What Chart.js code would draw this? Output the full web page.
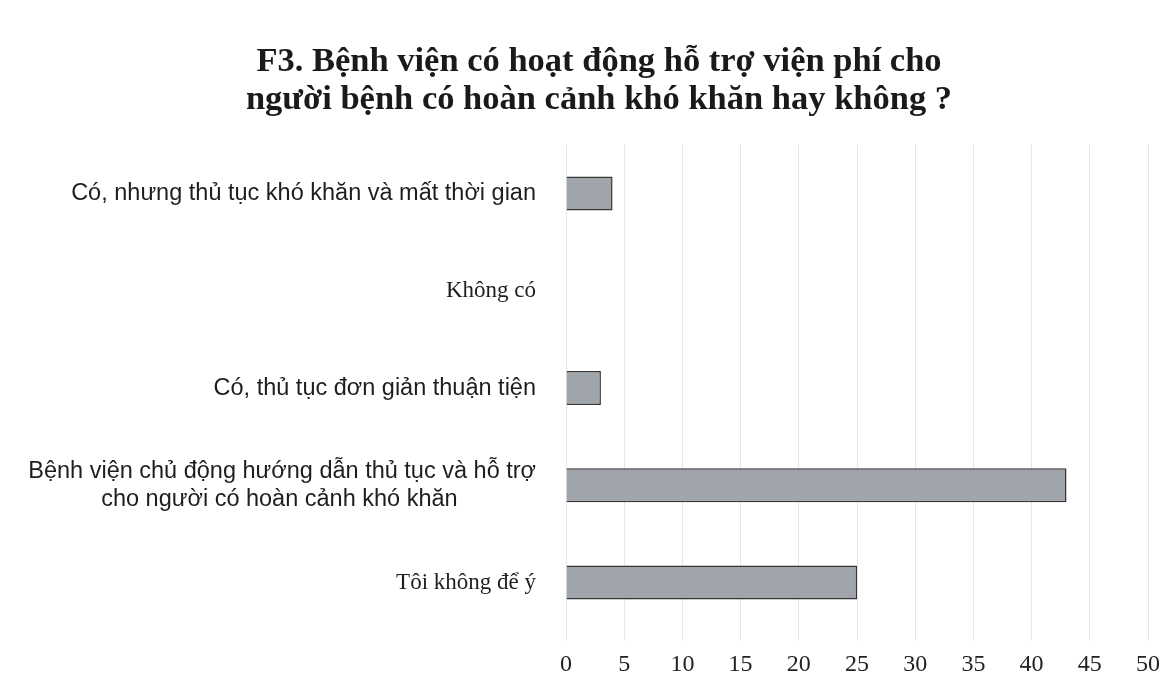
<!DOCTYPE html>
<html>
<head>
<meta charset="utf-8">
<script src="https://cdn.jsdelivr.net/npm/chart.js@4.4.1/dist/chart.umd.min.js"></script>
<style>
  html, body { margin: 0; padding: 0; background: #fff; }
  #wrap { width: 1176px; height: 689px; position: relative; }
</style>
</head>
<body>
<div id="wrap"><canvas id="chart" width="1176" height="689"></canvas></div>
<script>
// ---------------- Data ----------------
const TITLE_LINES = [
  "F3. Bệnh viện có hoạt động hỗ trợ viện phí cho",
  "người bệnh có hoàn cảnh khó khăn hay không ?"
];
const CATEGORIES = [
  "Có, nhưng thủ tục khó khăn và mất thời gian",
  "Không có",
  "Có, thủ tục đơn giản thuận tiện",
  ["Bệnh viện chủ động hướng dẫn thủ tục và hỗ trợ", "cho người có hoàn cảnh khó khăn"],
  "Tôi không để ý"
];
const VALUES = [4, 0, 3, 43, 25];
const X_TICKS = [0, 5, 10, 15, 20, 25, 30, 35, 40, 45, 50];

// labels 1 and 4 are set in a serif face in the original
const SERIF_LABELS = [1, 4];

const SANS = "'Liberation Sans', Arial, sans-serif";
const SERIF = "'Liberation Serif', 'Times New Roman', serif";
const LABEL_SIZE = 23.5;

// pad shorter lines of a multi-line label so they sit centred under the longest
const measureCtx = document.createElement("canvas").getContext("2d");
function centerLines(lines, font) {
  measureCtx.font = font;
  const widths = lines.map(l => measureCtx.measureText(l).width);
  const maxW = Math.max(...widths);
  const sp = measureCtx.measureText(" ").width;
  return lines.map((l, i) => l + " ".repeat(Math.round((maxW - widths[i]) / 2 / sp)));
}

// left padding is only there to push the title centre right;
// let the y-axis labels use that strip so the long one isn't clipped
const widenYAxis = {
  id: "widenYAxis",
  afterLayout(chart) { chart.scales.y.left = 0; }
};

new Chart(document.getElementById("chart").getContext("2d"), {
  type: "bar",
  plugins: [widenYAxis],
  data: {
    labels: CATEGORIES,
    datasets: [{
      data: VALUES,
      backgroundColor: "#a0a5ab",
      borderColor: "#353535",
      borderWidth: 1.5,
      barPercentage: 0.35,
      categoryPercentage: 1.0,
    }]
  },
  options: {
    indexAxis: "y",
    responsive: false,
    animation: false,
    layout: { padding: { left: 50, right: 28, top: 8, bottom: 0 } },
    plugins: {
      legend: { display: false },
      tooltip: { enabled: false },
      title: {
        display: true,
        text: TITLE_LINES,
        color: "#1a1a1a",
        font: { family: SERIF, size: 34.5, weight: "bold", lineHeight: 1.1 },
        padding: { top: 35, bottom: 26 }
      }
    },
    scales: {
      x: {
        min: X_TICKS[0],
        max: X_TICKS[X_TICKS.length - 1],
        afterBuildTicks: (scale) => { scale.ticks = X_TICKS.map(v => ({ value: v })); },
        grid: { color: "#e6e6e6", lineWidth: 1, drawTicks: true, tickLength: 9 },
        border: { display: false },
        ticks: {
          color: "#222",
          padding: 10,
          font: { family: SERIF, size: 24, lineHeight: 1.2 }
        }
      },
      y: {
        afterFit: (scale) => { scale.width = 516; },
        grid: { display: false },
        border: { display: false },
        ticks: {
          color: "#1e1e1e",
          padding: 22,
          font: (ctx) => SERIF_LABELS.includes(ctx.index)
            ? { family: SERIF, size: 23, lineHeight: 1.2 }
            : { family: SANS, size: LABEL_SIZE, lineHeight: 1.2 },
          callback: function (v, i) {
            const lab = CATEGORIES[i];
            if (Array.isArray(lab)) return centerLines(lab, LABEL_SIZE + "px " + SANS);
            return lab;
          }
        }
      }
    }
  }
});
</script>
</body>
</html>
